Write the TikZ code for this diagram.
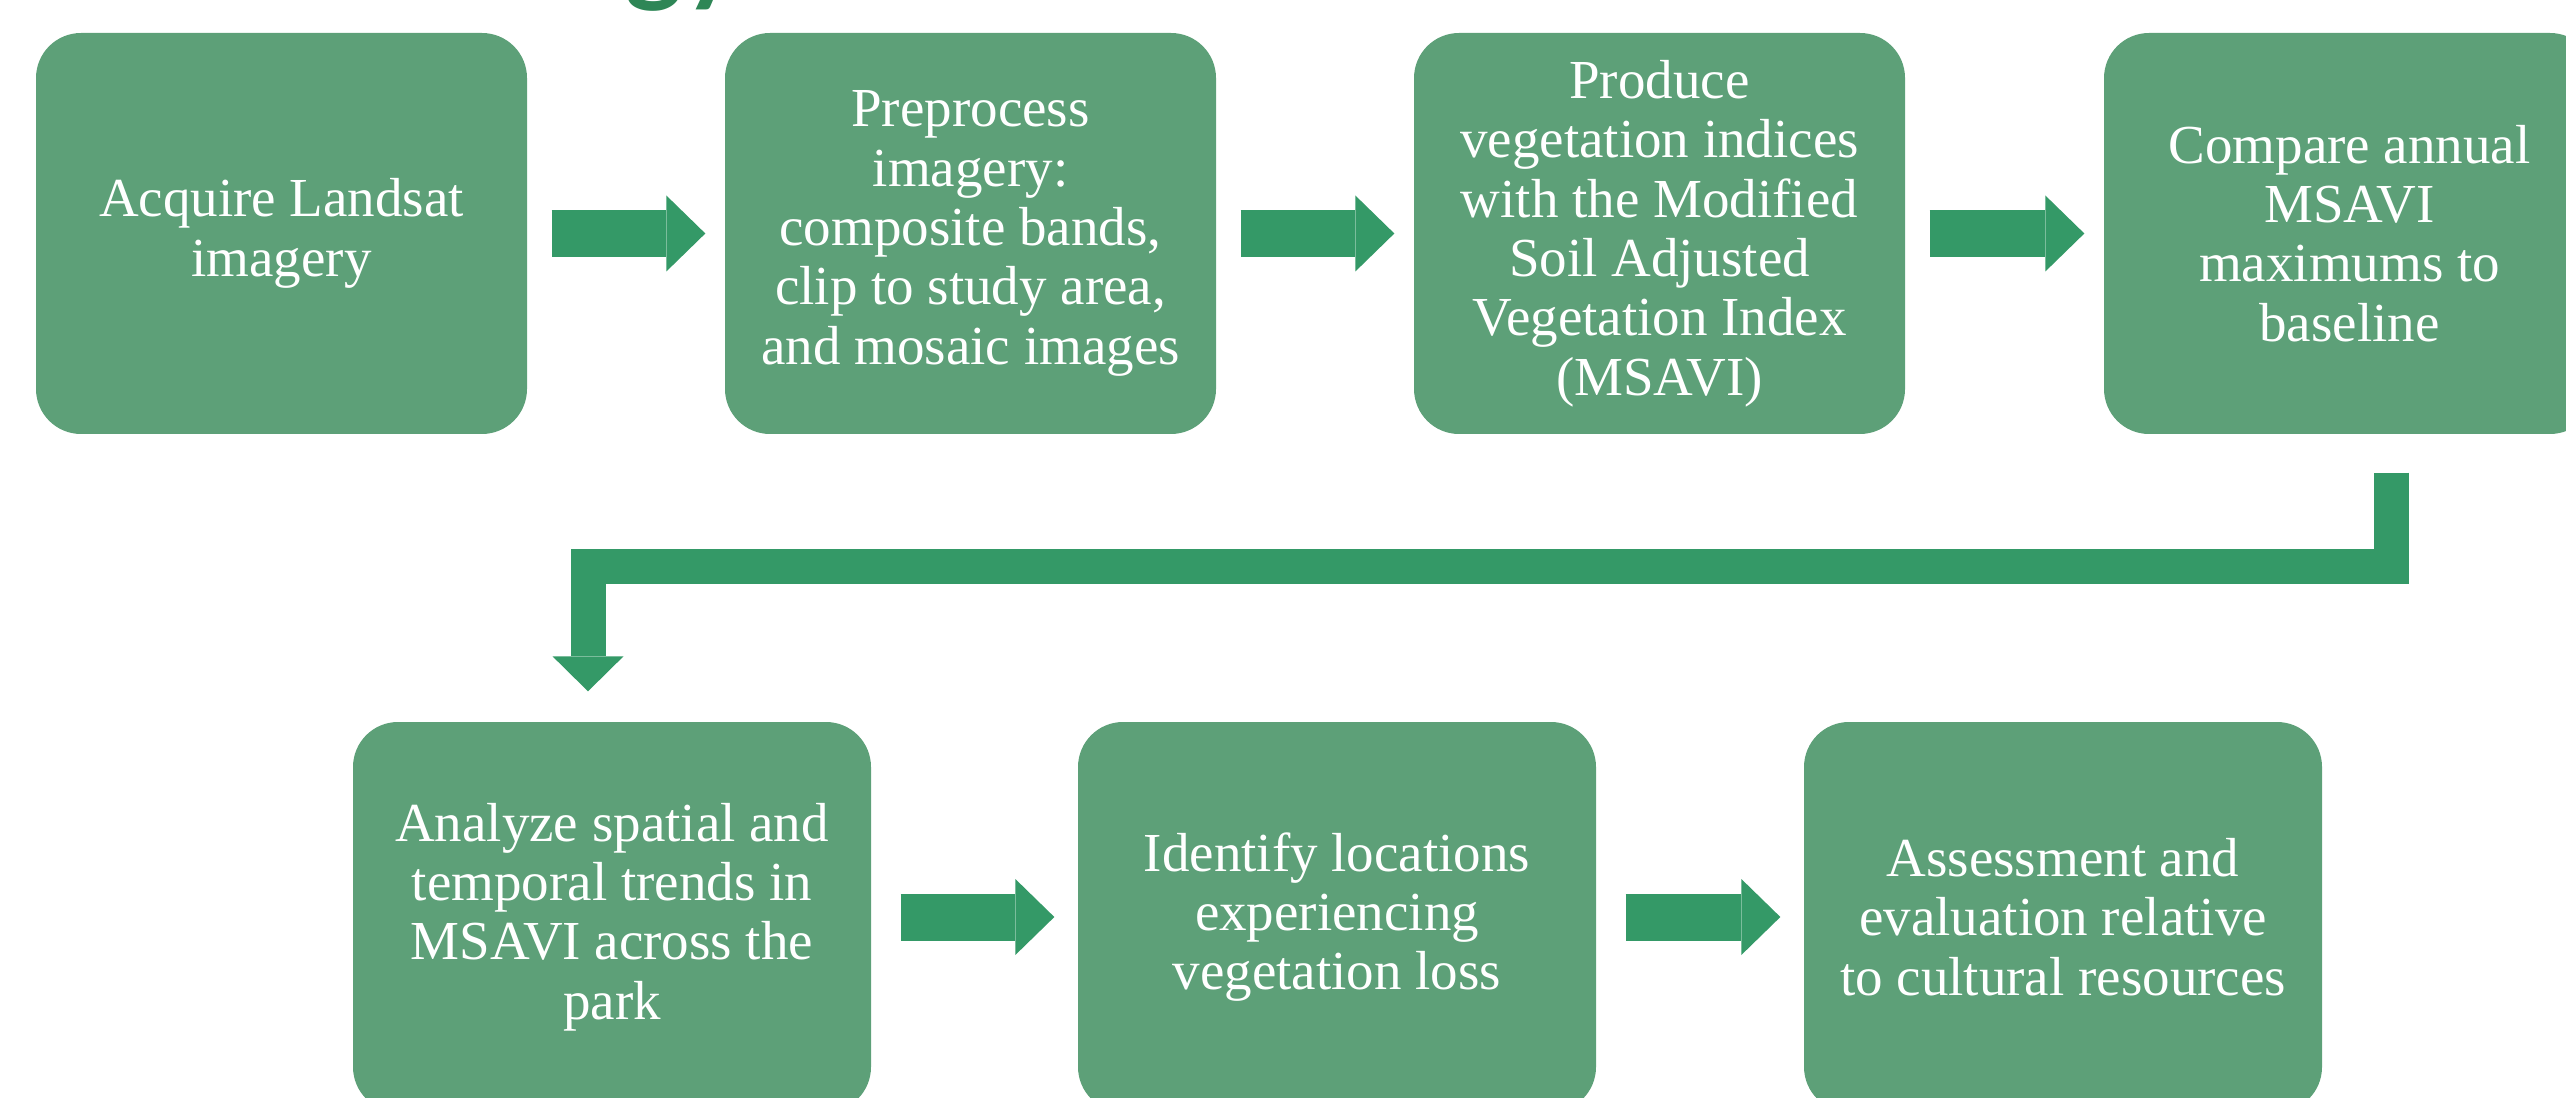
\documentclass[tikz,border=0pt]{standalone}
\usepackage{fontspec}
\setmainfont{Liberation Serif}
\newfontfamily\titlefont{Lato}
\usetikzlibrary{arrows.meta,calc}
\definecolor{boxgreen}{RGB}{93,160,120}
\definecolor{arrowgreen}{RGB}{52,153,103}
\definecolor{titlegreen}{RGB}{46,134,86}

\begin{document}
\begin{tikzpicture}[
    x=0.3pt, y=-0.3pt,
    stepbox/.style={
        rectangle, fill=boxgreen, text=white, rounded corners=13.5pt,
        align=center, inner sep=0pt,
        minimum width=147.3pt, minimum height=120.3pt,
        font=\fontsize{16.5}{17.8}\selectfont
    },
    lowbox/.style={stepbox, minimum width=155.4pt, minimum height=117pt},
    flow/.style={arrowgreen, line width=14.1pt,
        -{Triangle[length=11.7pt, width=22.8pt, line width=0pt]}},
    elbow/.style={arrowgreen, line width=10.5pt, line join=miter,
        -{Triangle[length=10.5pt, width=21.3pt, line width=0pt]}},
]

    % Frame of the slide, in pixels (y runs downwards).
    \useasboundingbox (0,0) rectangle (2566,1098);
    \clip (0,0) rectangle (2566,1098);

    % Row and column centres.
    \def\yTop{233.5}
    \def\yLow{917}
    \def\xAcquire{281.5}
    \def\xPreprocess{970.5}
    \def\xProduce{1659.5}
    \def\xCompare{2349.5}
    \def\xAnalyze{612}
    \def\xIdentify{1337}
    \def\xAssess{2063}

    % ---------- Title (only its descenders show) ----------
    \node[font=\titlefont\bfseries\fontsize{33}{36}\selectfont, text=titlegreen,
        anchor=base east, inner sep=0pt] (title) at (742,-8) {Methodology};

    % ---------- Upper row ----------
    \node[stepbox] (acquire) at (\xAcquire, \yTop) {Acquire Landsat\\imagery};
    \node[stepbox] (preprocess) at (\xPreprocess, \yTop) {Preprocess\\imagery:\\composite bands,\\clip to study area,\\and mosaic images};
    \node[stepbox] (produce) at (\xProduce, \yTop) {Produce\\vegetation indices\\with the Modified\\Soil Adjusted\\Vegetation Index\\(MSAVI)};
    \node[stepbox] (compare) at (\xCompare, \yTop) {Compare annual\\MSAVI\\maximums to\\baseline};

    \draw[flow] ($(acquire.east)+(24,0)$) -- ($(preprocess.west)+(-19,0)$);
    \draw[flow] ($(preprocess.east)+(24,0)$) -- ($(produce.west)+(-19,0)$);
    \draw[flow] ($(produce.east)+(24,0)$) -- ($(compare.west)+(-19,0)$);

    % ---------- Lower row ----------
    \node[lowbox] (analyze) at (\xAnalyze, \yLow) {Analyze spatial and\\temporal trends in\\MSAVI across the\\park};
    \node[lowbox] (identify) at (\xIdentify, \yLow) {Identify locations\\experiencing\\vegetation loss};
    \node[lowbox] (assess) at (\xAssess, \yLow) {Assessment and\\evaluation relative\\to cultural resources};

    \draw[flow] ($(analyze.east)+(29,0)$) -- ($(identify.west)+(-23,0)$);
    \draw[flow] ($(identify.east)+(29,0)$) -- ($(assess.west)+(-23,0)$);

    % Elbow arrow from the end of the upper row back to the lower row.
    \draw[elbow] ($(compare.south)+(42,38)$) |- ($(analyze.north)+(-24,-155)$)
        -- ($(analyze.north)+(-24,-30)$);

\end{tikzpicture}
\end{document}
